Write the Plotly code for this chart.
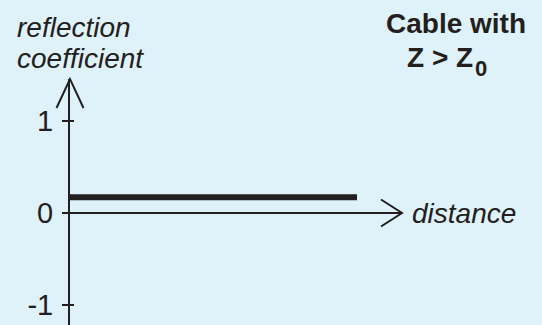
import plotly.graph_objects as go

# ---- data ----
distance = [0, 10]
reflection = [0.17, 0.17]
ytick_vals = [-1, 0, 1]
ytick_text = ["-1", "0", "1"]

BG = "#dff1f9"
INK = "#231f20"
FONT = "Liberation Sans, Arial, sans-serif"
FS = 28

W, H = 542, 325
ML, MR, MT, MB = 70, 140, 79, 0
PW, PH = W - ML - MR, H - MT - MB

# axis scales (units per pixel)
px_per_y = 92.0
px_per_x = 28.7
y_top = 134 / px_per_y          # arrow tip above zero
y_bot = -(PH - 134) / px_per_y
x_max = PW / px_per_x
yrange = [y_bot, y_top]
xrange = [0, x_max]


def px2paper_x(px):
    return (px - ML) / PW


def px2paper_y(py):
    return (H - MB - py) / PH


zero_paper_y = (0 - y_bot) / (y_top - y_bot)

fig = go.Figure()
fig.add_trace(go.Scatter(x=distance, y=reflection, mode="lines",
                         line=dict(color=INK, width=6),
                         showlegend=False, hoverinfo="skip"))
fig.add_trace(go.Scatter(x=[None], y=[None], yaxis="y2",
                         showlegend=False, hoverinfo="skip"))

fig.update_layout(
    width=W, height=H,
    margin=dict(l=ML, r=MR, t=MT, b=MB, pad=0),
    paper_bgcolor=BG, plot_bgcolor=BG,
    font=dict(family=FONT, color=INK, size=FS),
    xaxis=dict(range=xrange, showgrid=False, zeroline=False, showline=False,
               showticklabels=False, ticks=""),
    yaxis=dict(range=yrange, showgrid=False, zeroline=True, zerolinecolor=INK,
               zerolinewidth=2, showline=True, linecolor=INK, linewidth=2,
               ticks="outside", ticklen=6, tickwidth=2, tickcolor=INK,
               tickvals=ytick_vals, ticktext=ytick_text, ticklabelstandoff=3,
               tickfont=dict(size=29, color=INK, family=FONT)),
    yaxis2=dict(range=yrange, overlaying="y", side="left", anchor="x",
                showgrid=False, zeroline=False, showline=False,
                ticks="inside", ticklen=4, tickwidth=2, tickcolor=INK,
                tickvals=ytick_vals, showticklabels=False),
)

# arrowheads (open chevrons), sized in pixels
fig.add_shape(type="path", xref="paper", yref="paper",
              xsizemode="pixel", ysizemode="pixel",
              xanchor=0, yanchor=1,
              path="M-13.5,-29 L0,0 L13.5,-29",
              line=dict(color=INK, width=2))
fig.add_shape(type="path", xref="paper", yref="paper",
              xsizemode="pixel", ysizemode="pixel",
              xanchor=1, yanchor=zero_paper_y,
              path="M-21,13.5 L0,0 L-21,-13.5",
              line=dict(color=INK, width=2))


def label(text, x, y, xanchor="left", yanchor="top", size=FS):
    fig.add_annotation(text=text, xref="paper", yref="paper",
                       x=px2paper_x(x), y=px2paper_y(y),
                       xanchor=xanchor, yanchor=yanchor,
                       showarrow=False, font=dict(size=size, family=FONT, color=INK))


label("<i>reflection</i>", 15, 10)
label("<i>coefficient</i>", 15, 40.5)
label("<b>Cable with</b>", 456, 6, xanchor="center")
label("<b>Z &gt; Z</b>", 405, 40)
label("<b>0</b>", 473, 54, size=22)
fig.add_annotation(text="<i>distance</i>", xref="paper", yref="paper",
                   x=px2paper_x(410), y=zero_paper_y, xanchor="left", yanchor="middle",
                   showarrow=False, font=dict(size=FS))

fig.write_html("out.html", config={"displayModeBar": False},
               post_script="document.body.style.margin='0';document.body.style.padding='0';")
